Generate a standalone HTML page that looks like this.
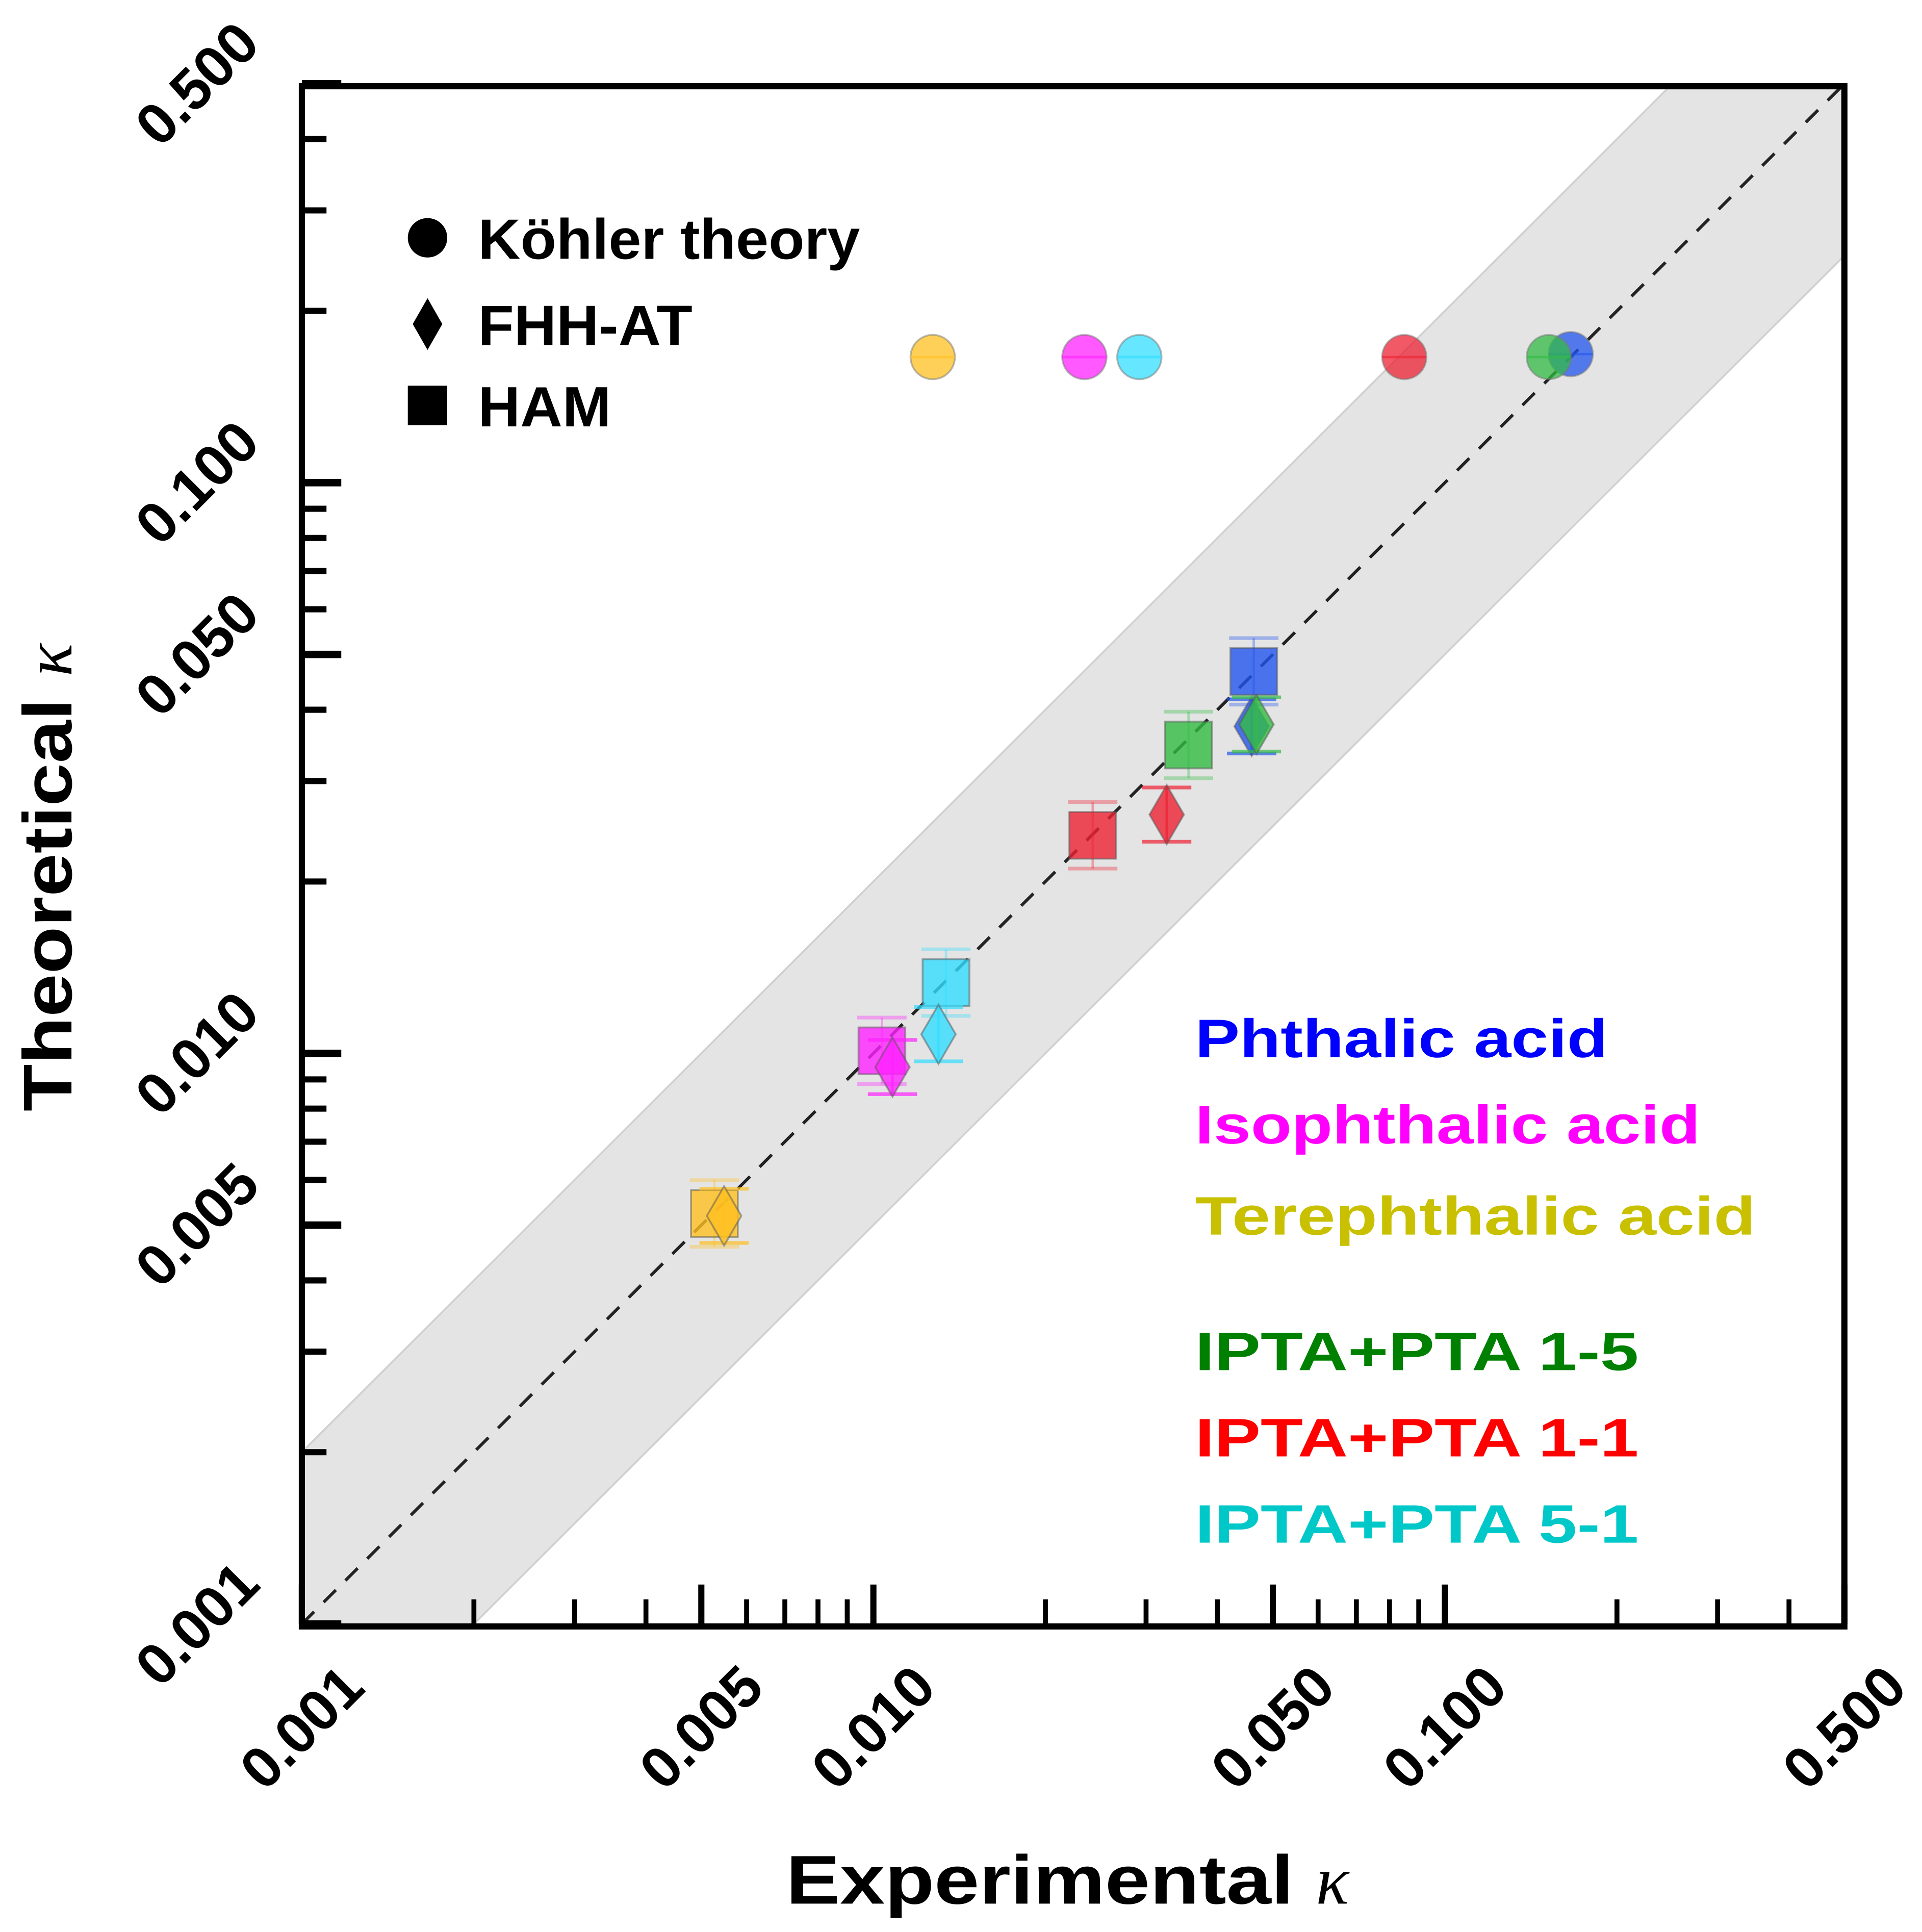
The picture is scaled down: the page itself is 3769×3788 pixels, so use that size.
<!DOCTYPE html>
<html><head><meta charset="utf-8"><style>
html,body{margin:0;padding:0;background:#fff;}
svg{display:block;font-family:"Liberation Sans",sans-serif;font-weight:bold;}
</style></head><body>
<svg id="chart" width="3769" height="3788" viewBox="0 0 1560 1568" preserveAspectRatio="none" xmlns="http://www.w3.org/2000/svg">
<rect width="1560" height="1568" fill="#fff"/>
<g id="plot"></g>
</svg>
<script>
const series = ["Phthalic acid","Isophthalic acid","Terephthalic acid","IPTA+PTA 1-5","IPTA+PTA 1-1","IPTA+PTA 5-1"];
const seriesColors = ["#2255ee","#ff22ff","#ffc020","#33bb44","#ee2233","#33ddff"];
const labelColors = ["#0000ff","#ff00ff","#c8c000","#008000","#ff0000","#00c8c8"];
const kohlerExp = [0.166,0.0234,0.0127,0.152,0.0849,0.0292];
const kohlerTheo = [0.168,0.166,0.166,0.166,0.166,0.166];
const hamExp = [0.0463,0.01035,0.00527,0.0356,0.0242,0.0134];
const hamTheo = [0.0467,0.0101,0.00524,0.0347,0.0241,0.0133];
const fhhExp = [0.0459,0.0108,0.00548,0.0468,0.0326,0.0130];
const fhhTheo = [0.0374,0.00946,0.00519,0.0377,0.0262,0.0108];
const majorTicks = [0.001,0.005,0.010,0.050,0.100,0.500];
const majorLabels = ["0.001","0.005","0.010","0.050","0.100","0.500"];

const NS="http://www.w3.org/2000/svg";
const X0=245,X1=1497,Y0=1318,Y1=68;
const LMIN=-3,LMAX=Math.log10(0.5);
function xs(v){return X0+(Math.log10(v)-LMIN)/(LMAX-LMIN)*(X1-X0);}
function ys(v){return Y0-(Math.log10(v)-LMIN)/(LMAX-LMIN)*(Y0-Y1);}
const g=document.getElementById('plot');
function mk(tag,attrs,parent){const e=document.createElementNS(NS,tag);for(const k in attrs)e.setAttribute(k,attrs[k]);(parent||g).appendChild(e);return e;}

const defs=mk('defs',{});
const cp=mk('clipPath',{id:'clip'},defs);mk('rect',{x:X0,y:Y1,width:X1-X0,height:Y0-Y1},cp);

const band=mk('polygon',{points:[[xs(0.001),ys(0.002)],[xs(0.25),ys(0.5)],[xs(0.5),ys(0.5)],[xs(0.5),ys(0.25)],[xs(0.002),ys(0.001)],[xs(0.001),ys(0.001)]].map(p=>p.join(',')).join(' '),fill:'#e4e4e4',stroke:'#d0d0d0','stroke-width':1.5,'clip-path':'url(#clip)'});


const diag=mk('line',{x1:xs(0.001),y1:ys(0.001),x2:xs(0.5),y2:ys(0.5),stroke:'#222','stroke-width':2.5,'stroke-dasharray':'14,11'});



const allTicks=[];
for(let d=-3;d<0;d++){for(let m=1;m<10;m++){const v=m*Math.pow(10,d);if(v<=0.5001)allTicks.push(v);}}
allTicks.forEach(v=>{
  const maj=majorTicks.some(t=>Math.abs(t-v)/v<1e-6);
  const L=maj?32:20;
  const tx=mk('line',{x1:xs(v),y1:Y0,x2:xs(v),y2:Y0-L,stroke:'#000','stroke-width':maj?5:4});
  
  
  const ty=mk('line',{x1:X0,y1:ys(v),x2:X0+L,y2:ys(v),stroke:'#000','stroke-width':maj?6:5});
  
  
});
majorTicks.forEach((v,i)=>{
  const xx=xs(v), xy=Y0+100;
  const xl=mk('text',{x:xx,y:xy,'font-size':47,'text-anchor':'middle',transform:`rotate(-45 ${xx} ${xy-16})`,fill:'#000'});
  xl.textContent=majorLabels[i];
  
  
  const yx=160, yy=ys(v)+16;
  const yl=mk('text',{x:yx,y:yy,'font-size':47,'text-anchor':'middle',transform:`rotate(-45 ${yx} ${yy-16})`,fill:'#000'});
  yl.textContent=majorLabels[i];
  
  
});

const fr=mk('rect',{x:X0,y:70,width:X1-X0,height:Y0-70+2,fill:'none',stroke:'#000','stroke-width':5});



function ebar(x,y,h,col,op){
  mk('line',{x1:x,y1:y-h,x2:x,y2:y+h,stroke:col,'stroke-width':2,opacity:op});
  mk('line',{x1:x-20,y1:y-h,x2:x+20,y2:y-h,stroke:col,'stroke-width':3,opacity:op});
  mk('line',{x1:x-20,y1:y+h,x2:x+20,y2:y+h,stroke:col,'stroke-width':3,opacity:op});
}
series.forEach((s,i)=>{
  const c=seriesColors[i];
  let x=xs(hamExp[i]),y=ys(hamTheo[i]);
  ebar(x,y,27,c,0.35);
  const sq=mk('rect',{x:x-19,y:y-19,width:38,height:38,fill:c,'fill-opacity':0.8,stroke:'#555','stroke-opacity':0.5,'stroke-width':1.5});
  
  
  x=xs(fhhExp[i]);y=ys(fhhTheo[i]);
  ebar(x,y,22,c,0.7);
  const dm=mk('polygon',{points:`${x},${y-24} ${x+14},${y} ${x},${y+24} ${x-14},${y}`,fill:c,'fill-opacity':0.8,stroke:'#555','stroke-opacity':0.5,'stroke-width':1.5});
  
  
  x=xs(kohlerExp[i]);y=ys(kohlerTheo[i]);
  const ci=mk('circle',{cx:x,cy:y,r:18,fill:c,'fill-opacity':0.75,stroke:'#777','stroke-opacity':0.5,'stroke-width':1.5});
  
  
  mk('line',{x1:x-18,y1:y,x2:x+18,y2:y,stroke:c,'stroke-width':2,opacity:0.6});
  const lt=mk('text',{x:970,y:[858,928,1002,1112,1182,1252][i],'font-size':44,fill:labelColors[i],textLength:[335,410,455,360,360,360][i],lengthAdjust:'spacingAndGlyphs'});
  lt.textContent=s;
  
  
});

const lg=mk('g',{});


mk('circle',{cx:347,cy:193,r:16,fill:'#000'},lg);
mk('polygon',{points:'347,242 359,263 347,284 335,263',fill:'#000'},lg);
mk('rect',{x:331,y:313,width:32,height:32,fill:'#000'},lg);
[['Köhler theory',210,310],['FHH-AT',280,174],['HAM',346,108]].forEach(t=>{
  const e=mk('text',{x:388,y:t[1],'font-size':46,fill:'#000',textLength:t[2],lengthAdjust:'spacingAndGlyphs'},lg);
  e.textContent=t[0];
});

const xt=mk('text',{x:638,y:1545,'font-size':56,fill:'#000'});
xt.innerHTML='<tspan textLength="412" lengthAdjust="spacingAndGlyphs">Experimental</tspan><tspan dx="18" font-family="Liberation Serif" font-style="italic" font-weight="normal">κ</tspan>';


const yt=mk('text',{x:58,y:902,'font-size':56,fill:'#000',transform:'rotate(-90 58 902)'});
yt.innerHTML='<tspan textLength="335" lengthAdjust="spacingAndGlyphs">Theoretical</tspan><tspan dx="18" font-family="Liberation Serif" font-style="italic" font-weight="normal">κ</tspan>';


</script>
</body></html>
